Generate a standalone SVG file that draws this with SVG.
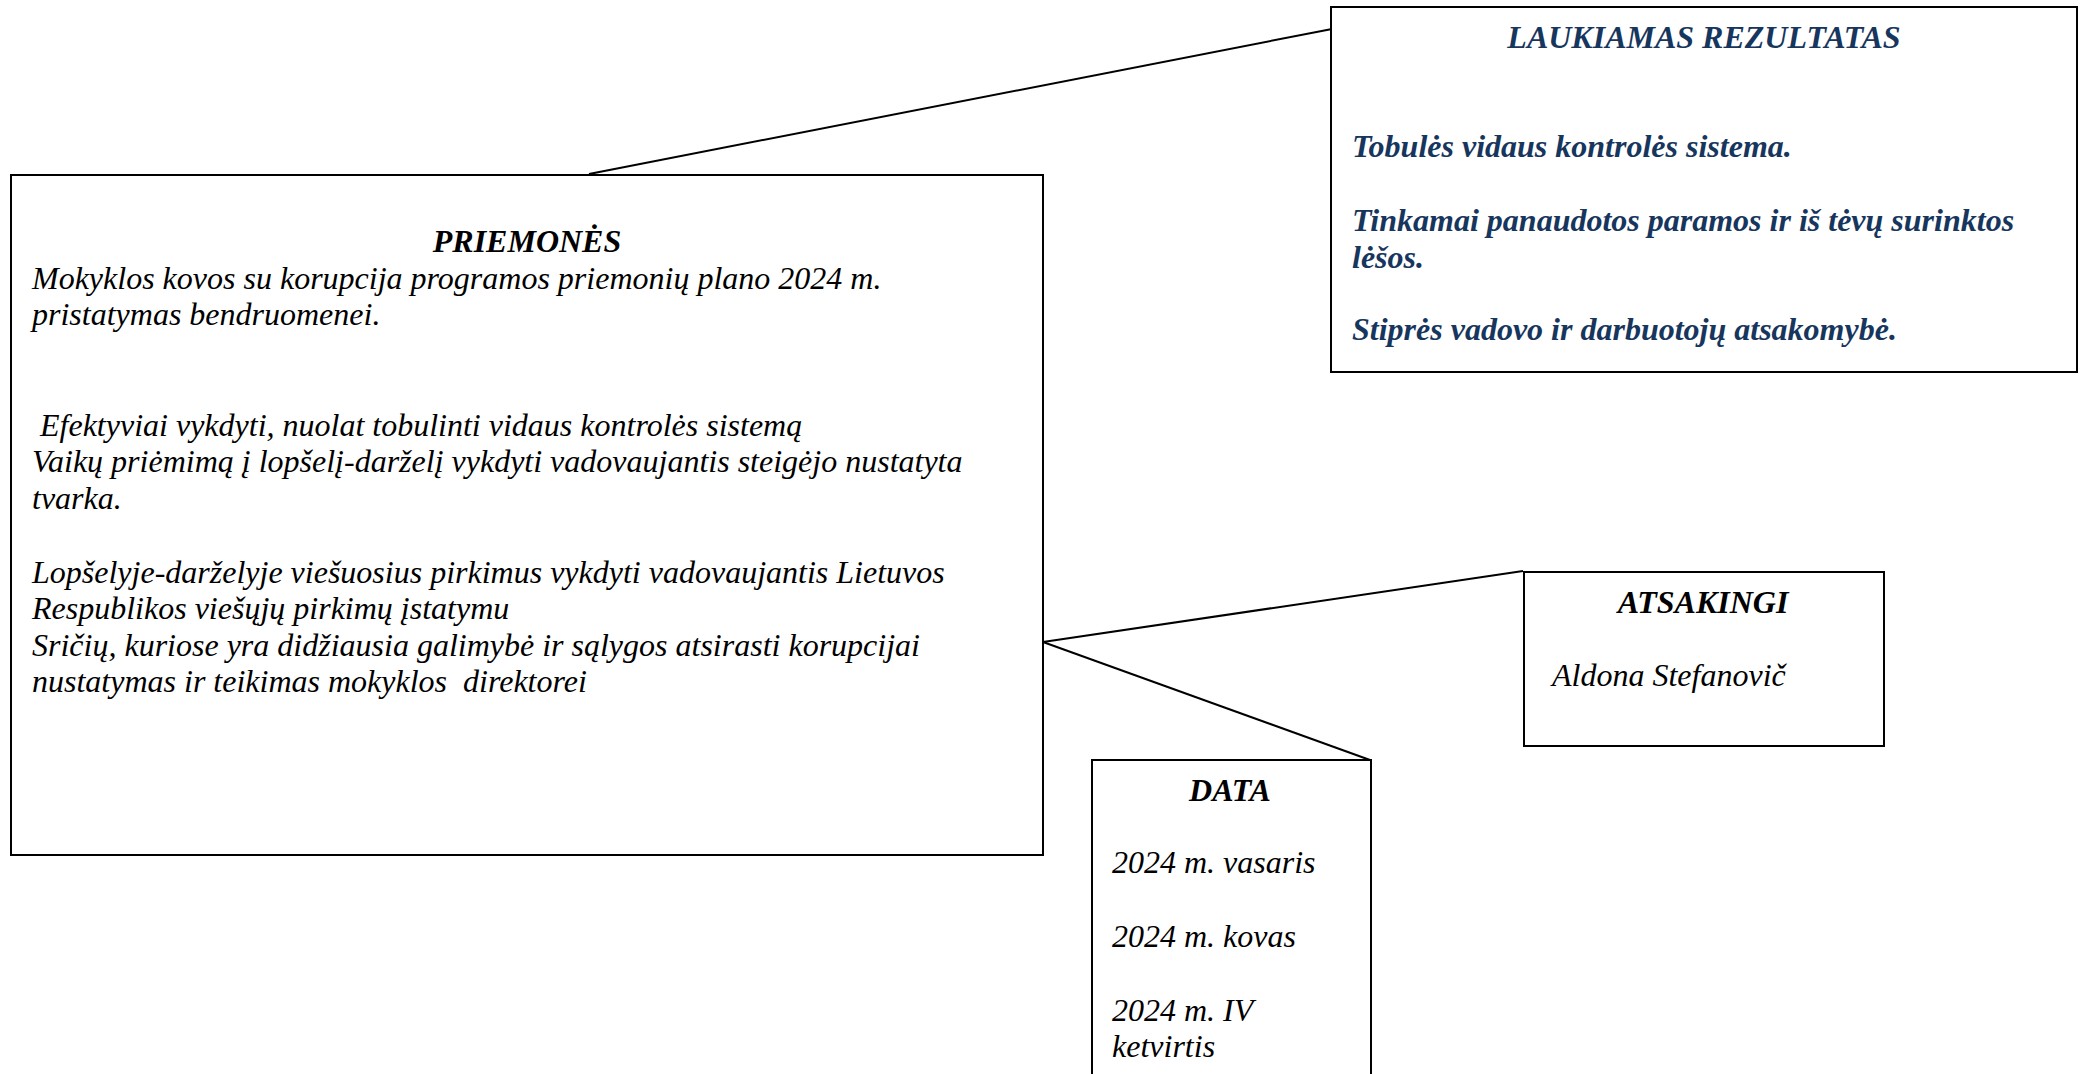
<svg xmlns="http://www.w3.org/2000/svg" width="2084" height="1074" viewBox="0 0 2084 1074">
<style>
.box{fill:#fff;stroke:#000;stroke-width:2}
.con{stroke:#000;stroke-width:2;fill:none}
.t{font-family:"Liberation Serif","Times New Roman",serif;font-style:italic;font-size:32px;fill:#000}
.h{font-weight:bold;text-anchor:middle}
.blue{fill:#17365D;font-weight:bold}
</style>
<rect width="2084" height="1074" fill="#fff"/>
<g id="connectors">
<line class="con" x1="589" y1="174" x2="1332" y2="29"/>
<line class="con" x1="1043" y1="642" x2="1523" y2="571"/>
<line class="con" x1="1043" y1="642" x2="1370" y2="760"/>
</g>
<g id="priemones">
<rect class="box" x="11" y="175" width="1032" height="680"/>
<text class="t h" x="527" y="252">PRIEMONĖS</text>
<text class="t" x="32" y="289">Mokyklos kovos su korupcija programos priemonių plano 2024 m.</text>
<text class="t" x="32" y="325">pristatymas bendruomenei.</text>
<text class="t" x="32" y="436" xml:space="preserve"> Efektyviai vykdyti, nuolat tobulinti vidaus kontrolės sistemą</text>
<text class="t" x="32" y="472">Vaikų priėmimą į lopšelį-darželį vykdyti vadovaujantis steigėjo nustatyta</text>
<text class="t" x="32" y="509">tvarka.</text>
<text class="t" x="32" y="583">Lopšelyje-darželyje viešuosius pirkimus vykdyti vadovaujantis Lietuvos</text>
<text class="t" x="32" y="619">Respublikos viešųjų pirkimų įstatymu</text>
<text class="t" x="32" y="656">Sričių, kuriose yra didžiausia galimybė ir sąlygos atsirasti korupcijai</text>
<text class="t" x="32" y="692" xml:space="preserve">nustatymas ir teikimas mokyklos  direktorei</text>
</g>
<g id="rezultatas">
<rect class="box" x="1331" y="7" width="746" height="365"/>
<text class="t h blue" x="1704" y="48">LAUKIAMAS REZULTATAS</text>
<text class="t blue" x="1352" y="157">Tobulės vidaus kontrolės sistema.</text>
<text class="t blue" x="1352" y="231">Tinkamai panaudotos paramos ir iš tėvų surinktos</text>
<text class="t blue" x="1352" y="268">lėšos.</text>
<text class="t blue" x="1352" y="340">Stiprės vadovo ir darbuotojų atsakomybė.</text>
</g>
<g id="atsakingi">
<rect class="box" x="1524" y="572" width="360" height="174"/>
<text class="t h" x="1703" y="613">ATSAKINGI</text>
<text class="t" x="1552" y="686">Aldona Stefanovič</text>
</g>
<g id="data">
<path class="box" d="M1092,1080 V760 H1371 V1080"/>
<text class="t h" x="1230" y="801">DATA</text>
<text class="t" x="1112" y="873">2024 m. vasaris</text>
<text class="t" x="1112" y="947">2024 m. kovas</text>
<text class="t" x="1112" y="1021">2024 m. IV</text>
<text class="t" x="1112" y="1057">ketvirtis</text>
</g>
</svg>
